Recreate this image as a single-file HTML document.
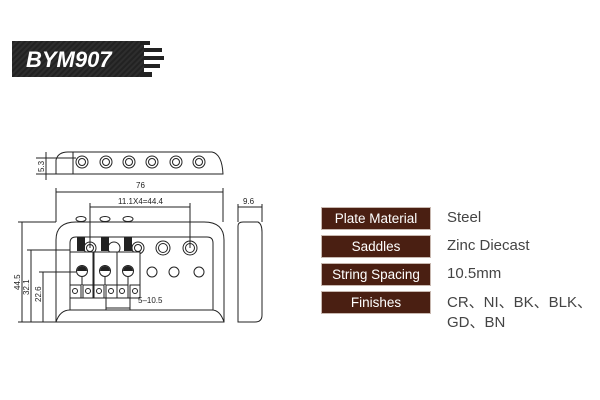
<!DOCTYPE html>
<html><head><meta charset="utf-8"><style>
body{margin:0;width:600px;height:400px;background:#fff;overflow:hidden;position:relative;font-family:"Liberation Sans",sans-serif}
.lab{position:absolute;left:322px;width:108px;height:21px;background:#4a1f12;color:#fff;font-size:13.5px;text-align:center;line-height:21px;box-shadow:0 0 0 1px #c8b8b0}
.val{position:absolute;left:447px;font-size:15px;color:#444}
</style></head><body>
<svg width="600" height="400" style="position:absolute;left:0;top:0" font-family="Liberation Sans">
<defs><pattern id="cf" width="4" height="4" patternUnits="userSpaceOnUse" patternTransform="rotate(45)"><rect width="4" height="4" fill="#222"/><rect width="2" height="4" fill="#2e2e2e"/></pattern></defs>
<rect x="12" y="41" width="132" height="36" fill="url(#cf)"/>
<g fill="#222"><rect x="140" y="41" width="10" height="4"/><rect x="144" y="48" width="18" height="4"/><rect x="144" y="56" width="20" height="4"/><rect x="144" y="64" width="16" height="4"/><rect x="140" y="72" width="12" height="5"/></g>
<text x="26" y="67" font-size="22" font-weight="bold" font-style="italic" fill="#fff">BYM907</text>
<g fill="none" stroke="#222" stroke-width="1">
<!-- top profile -->
<path d="M56 174 V160 Q58 152 68 152 H212 Q222 154 223 174 Z"/><line x1="73" y1="152" x2="73" y2="174"/>
<g><circle cx="82" cy="162" r="6"/><circle cx="82" cy="162" r="3.5"/><circle cx="106" cy="162" r="6"/><circle cx="106" cy="162" r="3.5"/><circle cx="129" cy="162" r="6"/><circle cx="129" cy="162" r="3.5"/><circle cx="152" cy="162" r="6"/><circle cx="152" cy="162" r="3.5"/><circle cx="176" cy="162" r="6"/><circle cx="176" cy="162" r="3.5"/><circle cx="199" cy="162" r="6"/><circle cx="199" cy="162" r="3.5"/></g>
<line x1="36" y1="158" x2="76" y2="158"/><line x1="36" y1="174" x2="56" y2="174"/><line x1="46" y1="152" x2="46" y2="180"/>
<!-- 76 dim -->
<line x1="56" y1="188" x2="56" y2="222"/><line x1="223" y1="188" x2="223" y2="222"/><line x1="56" y1="192" x2="223" y2="192"/>
<line x1="90" y1="207" x2="190" y2="207"/><line x1="90" y1="203" x2="90" y2="248"/><line x1="190" y1="203" x2="190" y2="248"/>
<!-- plate -->
<path d="M56 322 V240 Q56 222 76 222 H204 Q224 222 224 240 V322 Z"/>
<path d="M56 322 Q60 310 70 310 H212 Q220 310 224 322"/>
<path d="M70 310 V243 Q70 237 76 237 H207 Q213 237 213 243 V310"/>
<g><ellipse cx="81" cy="219" rx="5" ry="2.5"/><ellipse cx="105" cy="219" rx="5" ry="2.5"/><ellipse cx="128" cy="219" rx="5" ry="2.5"/></g>
<circle cx="90" cy="248" r="6"/><circle cx="90" cy="248" r="3.5"/><circle cx="114" cy="248" r="6"/><circle cx="138" cy="248" r="6"/><circle cx="138" cy="248" r="3.5"/><circle cx="163" cy="248" r="7"/><circle cx="163" cy="248" r="4.5"/><circle cx="190" cy="248" r="7"/><circle cx="190" cy="248" r="4.5"/>
<circle cx="152" cy="272" r="5"/><circle cx="174" cy="272" r="5"/><circle cx="199" cy="272" r="5"/>
<g fill="#fff"><rect x="70" y="252" width="23" height="46"/><rect x="94" y="252" width="23" height="46"/><rect x="117" y="252" width="23" height="46"/></g>
<g><circle cx="82" cy="271" r="5.5"/><circle cx="105" cy="271" r="5.5"/><circle cx="128" cy="271" r="5.5"/>
<path d="M82 277 V285 M105 277 V285 M128 277 V285"/>
<rect x="70" y="285" width="11" height="13"/><rect x="83" y="285" width="10" height="13"/><rect x="94" y="285" width="10" height="13"/><rect x="106" y="285" width="11" height="13"/><rect x="117" y="285" width="11" height="13"/><rect x="130" y="285" width="10" height="13"/>
<circle cx="75" cy="291" r="2.5"/><circle cx="88" cy="291" r="2.5"/><circle cx="99" cy="291" r="2.5"/><circle cx="111" cy="291" r="2.5"/><circle cx="122" cy="291" r="2.5"/><circle cx="135" cy="291" r="2.5"/></g>
<line x1="106" y1="298" x2="106" y2="310"/><line x1="130" y1="298" x2="130" y2="310"/><line x1="106" y1="308" x2="130" y2="308"/>
<!-- left dims -->
<line x1="18" y1="222" x2="56" y2="222"/><line x1="22" y1="222" x2="22" y2="322"/>
<line x1="27" y1="250" x2="70" y2="250"/><line x1="31" y1="250" x2="31" y2="322"/>
<line x1="39" y1="272" x2="76" y2="272"/><line x1="43" y1="272" x2="43" y2="322"/>
<line x1="18" y1="322" x2="56" y2="322"/>
<!-- side view -->
<path d="M238 322 V226 Q238 222 243 222 H258 Q262 224 262 232 V315 Q262 322 255 322 Z"/>
<line x1="238" y1="204" x2="238" y2="222"/><line x1="262" y1="204" x2="262" y2="222"/><line x1="238" y1="207" x2="262" y2="207"/>
</g>
<g fill="#222">
<rect x="77" y="237" width="8" height="14"/><rect x="101" y="237" width="8" height="14"/><rect x="124" y="237" width="8" height="14"/>
<path d="M77 271 A5 5 0 0 1 87 271 Z"/><path d="M100 271 A5 5 0 0 1 110 271 Z"/><path d="M123 271 A5 5 0 0 1 133 271 Z"/>
</g>
<g font-size="8" fill="#222">
<text x="136" y="188">76</text><text x="118" y="204">11.1X4=44.4</text><text x="243" y="204">9.6</text><text x="138" y="303">5–10.5</text>
<text transform="translate(20,290) rotate(-90)">44.5</text><text transform="translate(29,295) rotate(-90)">32.1</text><text transform="translate(41,302) rotate(-90)">22.6</text><text transform="translate(44,172) rotate(-90)">5.3</text>
</g>
</svg>
<div class="lab" style="top:208px">Plate Material</div><div class="val" style="top:209px">Steel</div>
<div class="lab" style="top:236px">Saddles</div><div class="val" style="top:237px">Zinc Diecast</div>
<div class="lab" style="top:264px">String Spacing</div><div class="val" style="top:265px">10.5mm</div>
<div class="lab" style="top:292px">Finishes</div><div class="val" style="top:293px;line-height:20px">CR、NI、BK、BLK、<br>GD、BN</div>
</body></html>
